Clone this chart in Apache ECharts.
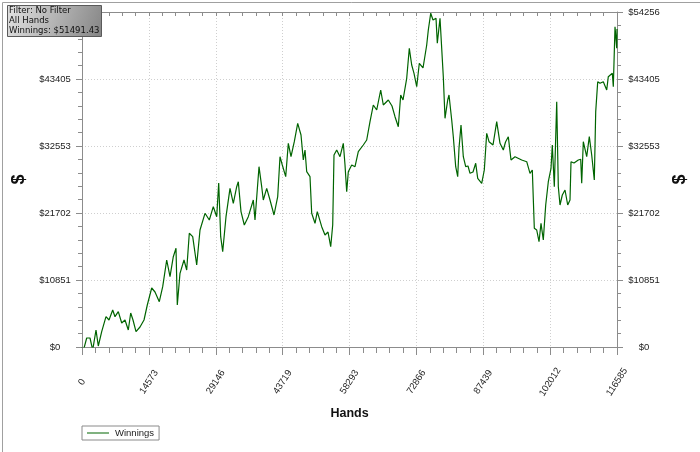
<!DOCTYPE html>
<html>
<head>
<meta charset="utf-8">
<script src="https://cdn.jsdelivr.net/npm/echarts@6/dist/echarts.min.js"></script>
<style>
html,body{margin:0;padding:0;background:#fff;}
#c{width:700px;height:452px;}
</style>
</head>
<body>
<div id="c"></div>
<script>
// ---- data ----
const hands = [0,218,1024,1743,2332,3051,3552,4293,5230,5884,6690,7191,7910,8652,9371,10090,10613,11114,11768,12639,13511,14230,15189,15908,16845,17586,18458,19177,19896,20484,20768,21356,22228,22816,23383,24124,24995,25715,26804,27741,28613,29354,29790,30225,30661,31380,32252,32971,33712,34061,34649,35368,36240,37330,37700,38572,39160,39510,40250,40969,41841,42647,43148,43649,44390,44957,45545,46264,47005,47724,48226,48596,48967,49686,50056,50775,51276,52235,52954,53608,54196,54632,54915,55504,56223,56942,57313,57683,58032,58773,59492,60211,61301,62042,62761,63480,64221,65093,65659,66749,67555,68209,68928,69451,69952,70758,71325,71848,72349,72938,73505,74311,75118,75466,75989,76490,77144,77427,78015,78734,79105,79693,79977,80565,80914,81437,81873,82156,82592,83093,83616,84117,84553,85207,85795,86231,87103,87669,88192,88693,89565,90371,91091,91810,92290,92900,93488,94360,95820,96910,97628,98130,98566,99089,99590,100026,100527,101050,101617,102205,102489,102925,103448,103797,104166,104668,105255,105844,106345,106563,107216,108154,108676,108894,109243,109984,110550,111073,111640,111945,112381,112883,113602,114343,114691,115563,115781,116152,116522,116585];
const winnings = [0,-810,1458,1458,-486,2753,162,2478,4907,4373,5993,4907,5717,3887,4373,2753,5507,4373,2478,3239,4373,6802,9556,8908,7337,9766,14091,11386,14625,15986,6802,11936,14091,12471,18415,17864,13281,18949,21654,20569,22723,21103,26561,17864,15435,21103,25703,23274,25962,26772,21928,19759,21103,23808,20569,29202,25962,23808,25703,23808,21379,24343,30821,29477,27582,32991,30821,33251,36230,34336,30287,31906,28392,27582,21654,20034,21913,19484,18140,18625,16245,19759,31096,31906,30821,32991,29477,25152,28392,29477,29202,31631,32716,33526,36490,39194,38385,41624,39194,40004,39032,37299,35680,40814,40004,43519,48378,45673,44328,42158,45948,45187,48912,51341,54046,52961,53236,49187,53236,43777,37040,40004,40814,36765,34060,29202,27582,32230,35955,30821,29202,29315,28133,28343,29752,27323,26513,28667,34611,33251,32716,36490,32991,31906,33202,34060,30287,30821,30287,30011,28133,28667,19225,18949,17054,20034,17330,22998,26772,28942,32716,25962,39729,25962,22998,24618,25428,22998,23808,30011,29801,30287,30400,26513,33251,30821,34060,31096,27047,38109,42968,42709,42968,41624,43778,44328,42158,51876,48378,51491];
const xTickLabels = ['0','14573','29146','43719','58293','72866','87439','102012','116585'];
const yTickLabels = ['$0','$10851','$21702','$32553','$43405','$54256'];
const seriesName = 'Winnings';
const infoLines = ['Filter: No Filter','All Hands','Winnings: $51491.43'];
const xAxisName = 'Hands';
const yAxisName = '$';

// ---- chart ----
const xMax = 116585, xInterval = xMax / 8;
const yMax = 54256, yInterval = yMax / 5;
const points = hands.map((h, i) => [h, winnings[i]]);
const labelFont = "'Liberation Sans', Arial, sans-serif";
const green = '#006400';

const xLabelFmt = v => xTickLabels[Math.round(v / xInterval)] ?? '';
const yLabelFmt = v => yTickLabels[Math.round(v / yInterval)] ?? '';

const axisGray = '#8c8c8c';
const gridLine = { show: true, lineStyle: { color: '#cfcfcf', type: [1, 2], width: 1 } };

const chart = echarts.init(document.getElementById('c'), null, { renderer: 'canvas' });
chart.setOption({
  animation: false,
  backgroundColor: '#fff',
  grid: { left: 82, right: 83, top: 12, bottom: 105, containLabel: false },
  legend: {
    left: 82, top: 426,
    data: [{ name: seriesName, icon: 'rect' }],
    borderColor: '#8a8a8a', borderWidth: 1, borderRadius: 0,
    padding: [2, 5],
    itemWidth: 22, itemHeight: 1, itemGap: 5,
    itemStyle: { color: green, borderWidth: 0 },
    textStyle: { fontSize: 9.5, color: '#222', fontFamily: labelFont, padding: [0, 0, 0, 1] }
  },
  xAxis: [{
    type: 'value', position: 'bottom', min: 0, max: xMax, interval: xInterval,
    name: xAxisName, nameLocation: 'middle', nameGap: 60,
    nameTextStyle: { fontSize: 12.5, fontWeight: 'bold', color: '#111', fontFamily: labelFont },
    axisLine: { show: true, onZero: false, lineStyle: { color: axisGray } },
    axisTick: { show: true, length: 8, lineStyle: { color: axisGray } },
    minorTick: { show: true, splitNumber: 5, length: 6, lineStyle: { color: axisGray } },
    splitLine: gridLine,
    axisLabel: {
      formatter: xLabelFmt, rotate: 57, margin: 35, align: 'center', verticalAlign: 'middle',
      fontSize: 9.5, color: '#222', fontFamily: labelFont, showMinLabel: true, showMaxLabel: true, hideOverlap: false
    }
  }, {
    type: 'value', position: 'top', min: 0, max: xMax, interval: xInterval,
    axisLine: { show: true, onZero: false, lineStyle: { color: axisGray } },
    axisTick: { show: true, inside: true, length: 4, lineStyle: { color: axisGray } },
    minorTick: { show: true, splitNumber: 5, length: 4, lineStyle: { color: axisGray } },
    splitLine: { show: false },
    axisLabel: { show: false }
  }],
  yAxis: [{
    type: 'value', position: 'left', min: 0, max: yMax, interval: yInterval,
    name: yAxisName, nameLocation: 'middle', nameGap: 50,
    nameTextStyle: { fontSize: 18, fontWeight: 'bold', color: '#111', fontFamily: labelFont },
    axisLine: { show: true, onZero: false, lineStyle: { color: axisGray } },
    axisTick: { show: true, length: 6, lineStyle: { color: axisGray } },
    minorTick: { show: true, splitNumber: 5, length: 4, lineStyle: { color: axisGray } },
    splitLine: gridLine,
    axisLabel: {
      formatter: yLabelFmt, margin: 27, align: 'center', verticalAlign: 'middle',
      fontSize: 9.5, color: '#222', fontFamily: labelFont, showMinLabel: true, showMaxLabel: false
    }
  }, {
    type: 'value', position: 'right', min: 0, max: yMax, interval: yInterval,
    name: yAxisName, nameLocation: 'middle', nameGap: 53, nameRotate: 90,
    nameTextStyle: { fontSize: 18, fontWeight: 'bold', color: '#111', fontFamily: labelFont },
    axisLine: { show: true, onZero: false, lineStyle: { color: axisGray } },
    axisTick: { show: true, length: 6, lineStyle: { color: axisGray } },
    minorTick: { show: true, splitNumber: 5, length: 4, lineStyle: { color: axisGray } },
    splitLine: { show: false },
    axisLabel: {
      formatter: yLabelFmt, margin: 27, align: 'center', verticalAlign: 'middle',
      fontSize: 9.5, color: '#222', fontFamily: labelFont, showMinLabel: true, showMaxLabel: true
    }
  }],
  series: [{
    name: seriesName, type: 'line', xAxisIndex: 0, yAxisIndex: 0,
    data: points, symbol: 'none', showSymbol: false,
    lineStyle: { color: green, width: 1.2 },
    itemStyle: { color: green }
  }],
  graphic: [{
    type: 'rect', left: 0, top: 0, silent: true, z: -10,
    shape: { x: 0.5, y: 0.5, width: 699, height: 451 },
    style: { fill: 'none', stroke: '#a0a0a0', lineWidth: 1 }
  }, {
    type: 'rect', left: 7, top: 5, z: 100, silent: true,
    shape: { x: 0.5, y: 0.5, width: 94, height: 31 },
    style: {
      fill: new echarts.graphic.LinearGradient(0, 0, 1, 1, [
        { offset: 0, color: '#e2e2e2' }, { offset: 1, color: '#858585' }
      ]),
      stroke: '#5a5a5a', lineWidth: 1
    }
  }].concat(infoLines.map((t, i) => ({
    type: 'text', left: 9, top: 6 + i * 10.2, z: 101, silent: true,
    style: { text: t, fontSize: 8.5, fontFamily: "'DejaVu Sans', sans-serif", fill: '#111' }
  })))
});
</script>
</body>
</html>
